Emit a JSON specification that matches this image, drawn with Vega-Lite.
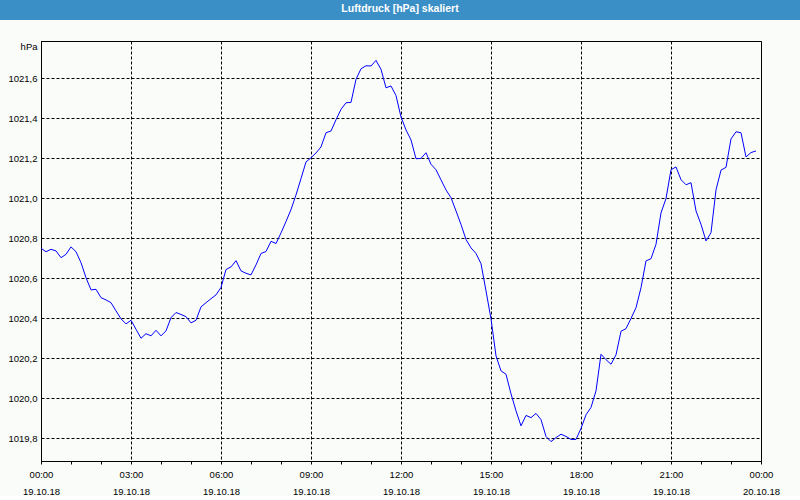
{
  "$schema": "https://vega.github.io/schema/vega-lite/v6.json",
  "background": "#fafcfa",
  "padding": 0,
  "spacing": 20,
  "config": {"font": "Liberation Sans"},
  "datasets": {
    "p": [
      {"t":"2018-10-19T00:00:00Z","p":1020.750},{"t":"2018-10-19T00:10:00Z","p":1020.733},{"t":"2018-10-19T00:20:00Z","p":1020.745},{"t":"2018-10-19T00:30:00Z","p":1020.737},{"t":"2018-10-19T00:40:00Z","p":1020.703},{"t":"2018-10-19T00:50:00Z","p":1020.720},
      {"t":"2018-10-19T01:00:00Z","p":1020.757},{"t":"2018-10-19T01:10:00Z","p":1020.733},{"t":"2018-10-19T01:20:00Z","p":1020.678},{"t":"2018-10-19T01:30:00Z","p":1020.603},{"t":"2018-10-19T01:40:00Z","p":1020.542},{"t":"2018-10-19T01:50:00Z","p":1020.545},
      {"t":"2018-10-19T02:00:00Z","p":1020.503},{"t":"2018-10-19T02:10:00Z","p":1020.492},{"t":"2018-10-19T02:20:00Z","p":1020.478},{"t":"2018-10-19T02:30:00Z","p":1020.437},{"t":"2018-10-19T02:40:00Z","p":1020.397},{"t":"2018-10-19T02:50:00Z","p":1020.372},
      {"t":"2018-10-19T03:00:00Z","p":1020.390},{"t":"2018-10-19T03:10:00Z","p":1020.345},{"t":"2018-10-19T03:20:00Z","p":1020.300},{"t":"2018-10-19T03:30:00Z","p":1020.323},{"t":"2018-10-19T03:40:00Z","p":1020.312},{"t":"2018-10-19T03:50:00Z","p":1020.340},
      {"t":"2018-10-19T04:00:00Z","p":1020.312},{"t":"2018-10-19T04:10:00Z","p":1020.337},{"t":"2018-10-19T04:20:00Z","p":1020.403},{"t":"2018-10-19T04:30:00Z","p":1020.429},{"t":"2018-10-19T04:40:00Z","p":1020.419},{"t":"2018-10-19T04:50:00Z","p":1020.408},
      {"t":"2018-10-19T05:00:00Z","p":1020.377},{"t":"2018-10-19T05:10:00Z","p":1020.390},{"t":"2018-10-19T05:20:00Z","p":1020.457},{"t":"2018-10-19T05:30:00Z","p":1020.478},{"t":"2018-10-19T05:40:00Z","p":1020.498},{"t":"2018-10-19T05:50:00Z","p":1020.517},
      {"t":"2018-10-19T06:00:00Z","p":1020.554},{"t":"2018-10-19T06:10:00Z","p":1020.644},{"t":"2018-10-19T06:20:00Z","p":1020.657},{"t":"2018-10-19T06:30:00Z","p":1020.688},{"t":"2018-10-19T06:40:00Z","p":1020.637},{"t":"2018-10-19T06:50:00Z","p":1020.625},
      {"t":"2018-10-19T07:00:00Z","p":1020.617},{"t":"2018-10-19T07:10:00Z","p":1020.667},{"t":"2018-10-19T07:20:00Z","p":1020.724},{"t":"2018-10-19T07:30:00Z","p":1020.734},{"t":"2018-10-19T07:40:00Z","p":1020.785},{"t":"2018-10-19T07:50:00Z","p":1020.774},
      {"t":"2018-10-19T08:00:00Z","p":1020.827},{"t":"2018-10-19T08:10:00Z","p":1020.884},{"t":"2018-10-19T08:20:00Z","p":1020.944},{"t":"2018-10-19T08:30:00Z","p":1021.017},{"t":"2018-10-19T08:40:00Z","p":1021.099},{"t":"2018-10-19T08:50:00Z","p":1021.182},
      {"t":"2018-10-19T09:00:00Z","p":1021.203},{"t":"2018-10-19T09:10:00Z","p":1021.227},{"t":"2018-10-19T09:20:00Z","p":1021.257},{"t":"2018-10-19T09:30:00Z","p":1021.328},{"t":"2018-10-19T09:40:00Z","p":1021.337},{"t":"2018-10-19T09:50:00Z","p":1021.393},
      {"t":"2018-10-19T10:00:00Z","p":1021.445},{"t":"2018-10-19T10:10:00Z","p":1021.478},{"t":"2018-10-19T10:20:00Z","p":1021.480},{"t":"2018-10-19T10:30:00Z","p":1021.595},{"t":"2018-10-19T10:40:00Z","p":1021.648},{"t":"2018-10-19T10:50:00Z","p":1021.663},
      {"t":"2018-10-19T11:00:00Z","p":1021.662},{"t":"2018-10-19T11:10:00Z","p":1021.690},{"t":"2018-10-19T11:20:00Z","p":1021.645},{"t":"2018-10-19T11:30:00Z","p":1021.553},{"t":"2018-10-19T11:40:00Z","p":1021.562},{"t":"2018-10-19T11:50:00Z","p":1021.514},
      {"t":"2018-10-19T12:00:00Z","p":1021.407},{"t":"2018-10-19T12:10:00Z","p":1021.342},{"t":"2018-10-19T12:20:00Z","p":1021.292},{"t":"2018-10-19T12:30:00Z","p":1021.198},{"t":"2018-10-19T12:40:00Z","p":1021.200},{"t":"2018-10-19T12:50:00Z","p":1021.228},
      {"t":"2018-10-19T13:00:00Z","p":1021.170},{"t":"2018-10-19T13:10:00Z","p":1021.143},{"t":"2018-10-19T13:20:00Z","p":1021.092},{"t":"2018-10-19T13:30:00Z","p":1021.042},{"t":"2018-10-19T13:40:00Z","p":1021.003},{"t":"2018-10-19T13:50:00Z","p":1020.937},
      {"t":"2018-10-19T14:00:00Z","p":1020.869},{"t":"2018-10-19T14:10:00Z","p":1020.794},{"t":"2018-10-19T14:20:00Z","p":1020.752},{"t":"2018-10-19T14:30:00Z","p":1020.724},{"t":"2018-10-19T14:40:00Z","p":1020.673},{"t":"2018-10-19T14:50:00Z","p":1020.537},
      {"t":"2018-10-19T15:00:00Z","p":1020.397},{"t":"2018-10-19T15:10:00Z","p":1020.212},{"t":"2018-10-19T15:20:00Z","p":1020.137},{"t":"2018-10-19T15:30:00Z","p":1020.120},{"t":"2018-10-19T15:40:00Z","p":1020.022},{"t":"2018-10-19T15:50:00Z","p":1019.937},
      {"t":"2018-10-19T16:00:00Z","p":1019.862},{"t":"2018-10-19T16:10:00Z","p":1019.914},{"t":"2018-10-19T16:20:00Z","p":1019.903},{"t":"2018-10-19T16:30:00Z","p":1019.924},{"t":"2018-10-19T16:40:00Z","p":1019.893},{"t":"2018-10-19T16:50:00Z","p":1019.809},
      {"t":"2018-10-19T17:00:00Z","p":1019.783},{"t":"2018-10-19T17:10:00Z","p":1019.803},{"t":"2018-10-19T17:20:00Z","p":1019.820},{"t":"2018-10-19T17:30:00Z","p":1019.809},{"t":"2018-10-19T17:40:00Z","p":1019.794},{"t":"2018-10-19T17:50:00Z","p":1019.794},
      {"t":"2018-10-19T18:00:00Z","p":1019.849},{"t":"2018-10-19T18:10:00Z","p":1019.917},{"t":"2018-10-19T18:20:00Z","p":1019.954},{"t":"2018-10-19T18:30:00Z","p":1020.037},{"t":"2018-10-19T18:40:00Z","p":1020.220},{"t":"2018-10-19T18:50:00Z","p":1020.193},
      {"t":"2018-10-19T19:00:00Z","p":1020.170},{"t":"2018-10-19T19:10:00Z","p":1020.217},{"t":"2018-10-19T19:20:00Z","p":1020.335},{"t":"2018-10-19T19:30:00Z","p":1020.348},{"t":"2018-10-19T19:40:00Z","p":1020.399},{"t":"2018-10-19T19:50:00Z","p":1020.453},
      {"t":"2018-10-19T20:00:00Z","p":1020.553},{"t":"2018-10-19T20:10:00Z","p":1020.687},{"t":"2018-10-19T20:20:00Z","p":1020.698},{"t":"2018-10-19T20:30:00Z","p":1020.770},{"t":"2018-10-19T20:40:00Z","p":1020.927},{"t":"2018-10-19T20:50:00Z","p":1020.999},
      {"t":"2018-10-19T21:00:00Z","p":1021.143},{"t":"2018-10-19T21:10:00Z","p":1021.157},{"t":"2018-10-19T21:20:00Z","p":1021.093},{"t":"2018-10-19T21:30:00Z","p":1021.068},{"t":"2018-10-19T21:40:00Z","p":1021.078},{"t":"2018-10-19T21:50:00Z","p":1020.937},
      {"t":"2018-10-19T22:00:00Z","p":1020.870},{"t":"2018-10-19T22:10:00Z","p":1020.787},{"t":"2018-10-19T22:20:00Z","p":1020.828},{"t":"2018-10-19T22:30:00Z","p":1021.042},{"t":"2018-10-19T22:40:00Z","p":1021.141},{"t":"2018-10-19T22:50:00Z","p":1021.155},
      {"t":"2018-10-19T23:00:00Z","p":1021.297},{"t":"2018-10-19T23:10:00Z","p":1021.333},{"t":"2018-10-19T23:20:00Z","p":1021.328},{"t":"2018-10-19T23:30:00Z","p":1021.207},{"t":"2018-10-19T23:40:00Z","p":1021.229},{"t":"2018-10-19T23:50:00Z","p":1021.237}
    ]
  },
  "vconcat": [
    {
      "width": 800,
      "height": 20,
      "view": {"fill": "#3b8fc7", "stroke": null},
      "data": {"values": [{"label": "Luftdruck [hPa] skaliert"}]},
      "mark": {"type": "text", "color": "white", "font": "Liberation Sans", "fontSize": 10.5, "fontWeight": "bold", "align": "center", "baseline": "middle", "dy": -1},
      "encoding": {"text": {"field": "label", "type": "nominal"}}
    },
    {
      "spacing": 0,
      "hconcat": [
        {
          "width": 1,
          "height": 420,
          "view": {"stroke": null},
          "data": {"values": [{"label": ""}]},
          "mark": {"type": "text"},
          "encoding": {"text": {"field": "label", "type": "nominal"}}
        },
        {
          "width": 720,
          "height": 420,
          "view": {"stroke": "black", "strokeWidth": 1},
          "data": {"name": "p"},
          "mark": {"type": "line", "color": "#0000ff", "strokeWidth": 1, "clip": true},
          "encoding": {
            "x": {
              "field": "t",
              "type": "temporal",
              "scale": {"type": "utc", "domain": [1539907200000, 1539993600000], "nice": false},
              "axis": {
                "title": null,
                "values": [1539907200000,1539910800000,1539914400000,1539918000000,1539921600000,1539925200000,1539928800000,1539932400000,1539936000000,1539939600000,1539943200000,1539946800000,1539950400000,1539954000000,1539957600000,1539961200000,1539964800000,1539968400000,1539972000000,1539975600000,1539979200000,1539982800000,1539986400000,1539990000000,1539993600000],
                "labelExpr": "utchours(datum.value) % 3 === 0 ? [utcFormat(datum.value, '%H:%M'), utcFormat(datum.value, '%d.%m.%y')] : ''",
                "labelFontSize": 9.5,
                "labelColor": "black",
                "labelLineHeight": 17,
                "labelPadding": 5,
                "labelOverlap": false,
                "labelFlush": false,
                "labelBound": false,
                "tickSize": 3,
                "tickColor": "black",
                "domainColor": "black",
                "grid": true,
                "gridColor": "black",
                "gridDash": [3, 2],
                "gridOpacity": {"condition": {"test": "utchours(datum.value) % 3 === 0", "value": 1}, "value": 0}
              }
            },
            "y": {
              "field": "p",
              "type": "quantitative",
              "scale": {"domain": [1019.686, 1021.787], "zero": false, "nice": false},
              "axis": {
                "title": null,
                "values": [1019.8, 1020.0, 1020.2, 1020.4, 1020.6, 1020.8, 1021.0, 1021.2, 1021.4, 1021.6, 1021.76],
                "labelExpr": "datum.value > 1021.7 ? 'hPa' : replace(format(datum.value, '.1f'), '.', ',')",
                "ticks": false,
                "labelPadding": 4,
                "labelFontSize": 9.5,
                "labelColor": "black",
                "labelOverlap": false,
                "labelFlush": false,
                "labelBound": false,
                "minExtent": 39,
                "maxExtent": 39,
                "domainColor": "black",
                "grid": true,
                "gridColor": "black",
                "gridDash": [3, 2],
                "gridOpacity": {"condition": {"test": "datum.value > 1021.7", "value": 0}, "value": 1}
              }
            }
          }
        }
      ]
    }
  ]
}
